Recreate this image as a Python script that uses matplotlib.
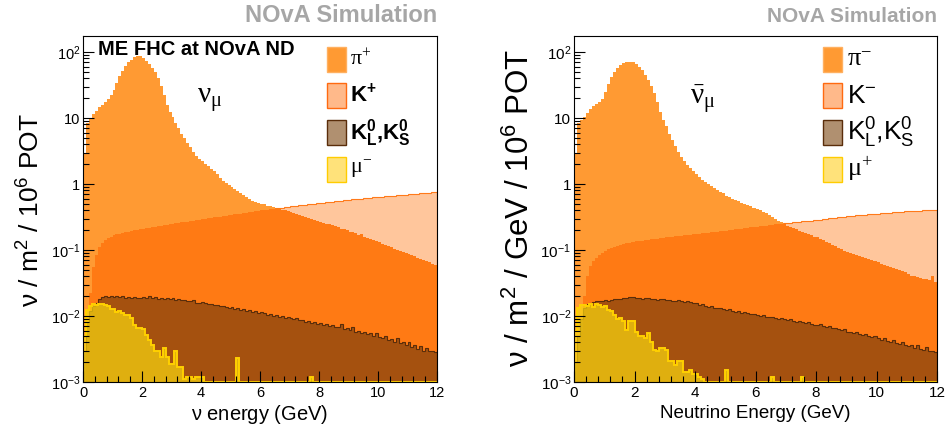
import numpy as np
import matplotlib
matplotlib.use('Agg')
import matplotlib.pyplot as plt
from matplotlib.patches import Rectangle
from matplotlib.ticker import FixedLocator, FixedFormatter, LogLocator, MultipleLocator, NullFormatter

plt.rcParams['font.family'] = ['Liberation Sans', 'DejaVu Sans']
plt.rcParams['mathtext.default'] = 'regular'

SANS = ['Liberation Sans', 'DejaVu Sans']
NARROW = ['Liberation Sans Narrow', 'Liberation Sans', 'DejaVu Sans']
SERIF = ['Liberation Serif', 'DejaVu Serif']

# 0.1 GeV bins from 0 to 12 GeV
edges = np.linspace(0, 12, 121)

# ---- nu_mu flux (FHC), nu / m^2 / 1e6 POT per bin ----
numu_pi = [3.0, 8.5, 10, 11.5, 13, 14.5, 16, 17.5, 19.5, 22,
           27, 34, 43, 52, 62, 70, 77, 83, 87, 86,
           82, 74, 66, 57, 49, 41, 31, 22, 16, 12.5,
           10.5, 8.5, 7.0, 5.8, 4.9, 4.2, 3.6, 3.1, 2.7, 2.4,
           2.2, 2.0, 1.85, 1.7, 1.55, 1.4, 1.25, 1.12, 1.03, 0.97,
           0.90, 0.84, 0.79, 0.74, 0.69, 0.64, 0.60, 0.56, 0.53, 0.51,
           0.50, 0.49, 0.47, 0.46, 0.45, 0.44, 0.43, 0.41, 0.40, 0.39,
           0.375, 0.36, 0.35, 0.34, 0.33, 0.32, 0.31, 0.30, 0.29, 0.28,
           0.27, 0.26, 0.25, 0.245, 0.24, 0.23, 0.22, 0.21, 0.205, 0.20,
           0.19, 0.185, 0.18, 0.17, 0.172, 0.16, 0.15, 0.145, 0.14, 0.135,
           0.13, 0.125, 0.12, 0.115, 0.11, 0.105, 0.10, 0.097, 0.093, 0.09,
           0.087, 0.083, 0.08, 0.077, 0.074, 0.071, 0.068, 0.065, 0.062, 0.06]
numu_k = [0.0005, 0.004, 0.022, 0.055, 0.085, 0.11, 0.128, 0.142, 0.152, 0.16,
          0.166, 0.172, 0.177, 0.182, 0.186, 0.19, 0.194, 0.198, 0.202, 0.206,
          0.21, 0.214, 0.218, 0.222, 0.226, 0.23, 0.234, 0.238, 0.242, 0.246,
          0.25, 0.254, 0.258, 0.262, 0.266, 0.27, 0.274, 0.278, 0.282, 0.287,
          0.292, 0.297, 0.302, 0.307, 0.312, 0.317, 0.322, 0.327, 0.332, 0.337,
          0.342, 0.347, 0.352, 0.357, 0.362, 0.368, 0.374, 0.38, 0.386, 0.392,
          0.398, 0.404, 0.41, 0.416, 0.422, 0.428, 0.434, 0.44, 0.446, 0.452,
          0.458, 0.464, 0.47, 0.476, 0.482, 0.488, 0.494, 0.5, 0.506, 0.512,
          0.518, 0.524, 0.53, 0.536, 0.542, 0.548, 0.554, 0.56, 0.566, 0.572,
          0.578, 0.584, 0.59, 0.596, 0.602, 0.608, 0.614, 0.62, 0.626, 0.632,
          0.638, 0.644, 0.65, 0.656, 0.662, 0.668, 0.674, 0.68, 0.686, 0.692,
          0.698, 0.704, 0.71, 0.716, 0.722, 0.728, 0.734, 0.74, 0.748, 0.756]
numu_k0 = [0.003, 0.008, 0.012, 0.014, 0.016, 0.018, 0.0195, 0.02, 0.0195, 0.02,
           0.0195, 0.02, 0.0192, 0.0198, 0.019, 0.0195, 0.0188, 0.0196, 0.019, 0.0185,
           0.0192, 0.0186, 0.02, 0.0188, 0.0194, 0.0183, 0.019, 0.0182, 0.0186, 0.0178,
           0.0185, 0.0176, 0.018, 0.0174, 0.0177, 0.017, 0.0166, 0.0172, 0.0158, 0.016,
           0.0162, 0.0155, 0.015, 0.0153, 0.0145, 0.0148, 0.014, 0.0143, 0.0136, 0.0132,
           0.0135, 0.0128, 0.013, 0.0124, 0.0126, 0.012, 0.0122, 0.0116, 0.0118, 0.0112,
           0.0115, 0.011, 0.0104, 0.0107, 0.0101, 0.0104, 0.0098, 0.01, 0.0094, 0.0097,
           0.0092, 0.0089, 0.0093, 0.0086, 0.0088, 0.0082, 0.0084, 0.0079, 0.0081, 0.0076,
           0.0078, 0.0073, 0.0075, 0.007, 0.0072, 0.0067, 0.0069, 0.0075, 0.0063, 0.0065,
           0.0061, 0.0068, 0.0058, 0.006, 0.0056, 0.0058, 0.0053, 0.0055, 0.005, 0.0056,
           0.0048, 0.0047, 0.0049, 0.0043, 0.0045, 0.0041, 0.0046, 0.0039, 0.004, 0.0036,
           0.0041, 0.0034, 0.0036, 0.0032, 0.0035, 0.003, 0.0033, 0.0029, 0.003, 0.0028]
numu_mu = [0.005, 0.0125, 0.014, 0.015, 0.0148, 0.015, 0.0152, 0.0148, 0.0142, 0.0128,
           0.0128, 0.0117, 0.0118, 0.0112, 0.0104, 0.0104, 0.0094, 0.0072, 0.0066, 0.0065,
           0.0064, 0.0052, 0.0043, 0.0037, 0.003, 0.0029, 0.0024, 0.0033, 0.0024, 0.0019,
           0.0019, 0.0029, 0.0017, 0.0017, 0.0011, 0.0012, 0.0012, 0.0011, 0.0012, 0.0012,
           0.0012, 0, 0, 0, 0, 0, 0, 0, 0, 0,
           0, 0, 0.0023, 0, 0, 0, 0, 0, 0, 0,
           0, 0, 0, 0, 0, 0, 0, 0, 0, 0,
           0, 0, 0, 0, 0, 0, 0, 0.0012, 0, 0,
           0, 0, 0, 0, 0, 0, 0, 0, 0, 0,
           0, 0, 0, 0, 0, 0, 0, 0, 0, 0,
           0, 0, 0, 0, 0, 0, 0, 0, 0, 0,
           0, 0, 0, 0, 0, 0, 0, 0, 0, 0]

# ---- anti-nu_mu flux, nu / m^2 / GeV / 1e6 POT ----
anumu_pi = [3.0, 8.5, 9.5, 10.5, 12, 13.5, 15, 16.5, 17.5, 19.5,
            25, 33, 42, 50, 57, 64, 68, 71, 71.5, 70,
            66, 60, 53, 45, 38, 31, 24, 17.5, 12.5, 9.5,
            7.5, 5.8, 4.6, 3.8, 3.1, 2.6, 2.25, 1.95, 1.72, 1.55,
            1.4, 1.27, 1.16, 1.07, 1.0, 0.94, 0.86, 0.8, 0.76, 0.72,
            0.66, 0.63, 0.6, 0.58, 0.55, 0.52, 0.5, 0.48, 0.46, 0.44,
            0.42, 0.4, 0.38, 0.36, 0.34, 0.32, 0.3, 0.28, 0.265, 0.25,
            0.235, 0.225, 0.215, 0.205, 0.195, 0.19, 0.18, 0.175, 0.168, 0.16,
            0.155, 0.148, 0.14, 0.133, 0.127, 0.12, 0.114, 0.108, 0.103, 0.098,
            0.094, 0.09, 0.087, 0.084, 0.081, 0.078, 0.076, 0.073, 0.07, 0.067,
            0.065, 0.062, 0.06, 0.058, 0.056, 0.054, 0.052, 0.05, 0.048, 0.046,
            0.043, 0.041, 0.04, 0.039, 0.038, 0.037, 0.036, 0.035, 0.04, 0.033]
anumu_k = [0.0005, 0.002, 0.006, 0.02, 0.041, 0.057, 0.068, 0.076, 0.084, 0.09,
           0.097, 0.102, 0.107, 0.111, 0.115, 0.119, 0.123, 0.126, 0.129, 0.132,
           0.135, 0.137, 0.139, 0.141, 0.143, 0.145, 0.147, 0.149, 0.151, 0.153,
           0.155, 0.157, 0.159, 0.161, 0.163, 0.165, 0.167, 0.169, 0.171, 0.173,
           0.175, 0.177, 0.179, 0.181, 0.183, 0.185, 0.187, 0.189, 0.191, 0.193,
           0.196, 0.199, 0.202, 0.205, 0.208, 0.211, 0.214, 0.217, 0.22, 0.223,
           0.226, 0.229, 0.232, 0.235, 0.238, 0.241, 0.244, 0.247, 0.25, 0.253,
           0.256, 0.259, 0.262, 0.265, 0.268, 0.271, 0.274, 0.277, 0.28, 0.283,
           0.286, 0.29, 0.294, 0.298, 0.302, 0.306, 0.31, 0.314, 0.318, 0.322,
           0.326, 0.33, 0.333, 0.336, 0.339, 0.342, 0.345, 0.348, 0.351, 0.354,
           0.357, 0.36, 0.363, 0.366, 0.369, 0.372, 0.375, 0.378, 0.381, 0.384,
           0.387, 0.39, 0.392, 0.394, 0.396, 0.398, 0.4, 0.402, 0.404, 0.406]
anumu_k0 = [0.002, 0.005, 0.009, 0.013, 0.015, 0.016, 0.0165, 0.017, 0.017, 0.0168,
            0.0172, 0.017, 0.0175, 0.0178, 0.018, 0.0183, 0.019, 0.0185, 0.0192, 0.0195,
            0.019, 0.0188, 0.0183, 0.0186, 0.0189, 0.0181, 0.0184, 0.0176, 0.018, 0.0178,
            0.0172, 0.0177, 0.017, 0.0168, 0.0175, 0.0166, 0.0164, 0.0168, 0.0162, 0.016,
            0.0156, 0.0148, 0.0152, 0.0142, 0.0138, 0.014, 0.0134, 0.0131, 0.0134, 0.0127,
            0.0123, 0.0126, 0.012, 0.0117, 0.0119, 0.0113, 0.0115, 0.011, 0.0107, 0.0109,
            0.0104, 0.0101, 0.0103, 0.0098, 0.0096, 0.0098, 0.0093, 0.0091, 0.0094, 0.0089,
            0.0087, 0.0089, 0.0084, 0.0082, 0.0085, 0.008, 0.0078, 0.0081, 0.0076, 0.0074,
            0.0072, 0.0075, 0.007, 0.0068, 0.007, 0.0065, 0.0066, 0.0063, 0.0061, 0.0063,
            0.0058, 0.0057, 0.0055, 0.0057, 0.0053, 0.0051, 0.0053, 0.0049, 0.0048, 0.005,
            0.0046, 0.0044, 0.0046, 0.0042, 0.0041, 0.0043, 0.0039, 0.0038, 0.004, 0.0036,
            0.0035, 0.0037, 0.0033, 0.0036, 0.0032, 0.0031, 0.0034, 0.003, 0.0029, 0.0028]
anumu_mu = [0.006, 0.013, 0.0148, 0.0145, 0.014, 0.0152, 0.0138, 0.015, 0.0145, 0.0135,
            0.0142, 0.0122, 0.0118, 0.0105, 0.009, 0.0092, 0.0085, 0.0062, 0.0084, 0.0083,
            0.0057, 0.0049, 0.005, 0.0046, 0.0055, 0.004, 0.0031, 0.0029, 0.0033, 0.0033,
            0.0031, 0.0021, 0.0021, 0.0018, 0.0021, 0.0021, 0.0014, 0.0014, 0.0015, 0.0013,
            0.0013, 0.0012, 0.0011, 0, 0, 0, 0, 0, 0, 0,
            0.0015, 0, 0, 0, 0, 0, 0, 0, 0, 0,
            0, 0, 0, 0, 0, 0.0012, 0, 0, 0, 0,
            0, 0, 0, 0, 0, 0.0012, 0, 0, 0, 0,
            0, 0, 0, 0, 0, 0, 0, 0, 0, 0,
            0, 0, 0, 0, 0, 0, 0, 0, 0, 0,
            0, 0, 0, 0, 0, 0, 0, 0, 0, 0,
            0, 0, 0, 0, 0, 0, 0, 0, 0, 0]

ytick_vals = [1e-3, 1e-2, 1e-1, 1, 10, 100]
ytick_labels = ['$10^{-3}$', '$10^{-2}$', '$10^{-1}$', '1', '10', '$10^{2}$']

PI_COL = '#FF9A33'
K_LIGHT = '#FFC69C'
K_DARK = '#FF7A14'
K0_FACE = (105 / 255, 55 / 255, 12 / 255, 0.6)
MU_FACE = (249 / 255, 216 / 255, 16 / 255, 0.7)


def draw_flux(ax, pi, k, k0, mu, tickfam, ticksize):
    pi = np.array(pi)
    k = np.array(k)
    k0 = np.array(k0)
    mu = np.maximum(np.array(mu), 1e-3)
    ax.stairs(k, edges, fill=True, baseline=1e-6, facecolor=K_LIGHT,
              edgecolor='#FF7A1A', linewidth=0.8, zorder=1.0)
    ax.stairs(pi, edges, fill=True, baseline=1e-6, facecolor=PI_COL,
              linewidth=0, zorder=1.1)
    ax.stairs(np.minimum(pi, k), edges, fill=True, baseline=1e-6,
              facecolor=K_DARK, linewidth=0, zorder=1.2)
    ax.stairs(k0, edges, fill=True, baseline=1e-6, facecolor=K0_FACE,
              edgecolor='#5A2D0A', linewidth=0.8, zorder=1.3)
    ax.stairs(mu, edges, fill=True, baseline=1e-3, facecolor=MU_FACE,
              edgecolor='#FFD000', linewidth=1.4, zorder=1.4)

    ax.set_yscale('log')
    ax.set_xlim(0, 12)
    ax.set_ylim(1e-3, 175)
    ax.yaxis.set_major_locator(FixedLocator(ytick_vals))
    ax.yaxis.set_major_formatter(FixedFormatter(ytick_labels))
    ax.yaxis.set_minor_locator(LogLocator(base=10, subs=np.arange(2, 10), numticks=20))
    ax.yaxis.set_minor_formatter(NullFormatter())
    ax.xaxis.set_major_locator(MultipleLocator(2))
    ax.xaxis.set_minor_locator(MultipleLocator(0.4))
    ax.tick_params(which='both', direction='in', top=False, right=False,
                   width=0.8, labelsize=ticksize)
    ax.tick_params(which='major', length=8)
    ax.tick_params(which='minor', length=4)
    ax.tick_params(axis='y', pad=2)
    ax.tick_params(axis='x', pad=3)
    for lab in ax.get_xticklabels() + ax.get_yticklabels():
        lab.set_family(tickfam)
    for sp in ax.spines.values():
        sp.set_linewidth(0.8)


def add_key(ax, labels, x0, fams, weights, size):
    faces = [PI_COL, '#FFB98A', '#B09070', '#FFE27A']
    edgecols = ['#FFB060', '#FF6A10', '#5A2D0A', '#FFCC00']
    tops = [0.968, 0.863, 0.756, 0.649]
    for lab, fc, ec, top, f, w in zip(labels, faces, edgecols, tops, fams, weights):
        ax.add_patch(Rectangle((x0, top - 0.072), 0.053, 0.072, transform=ax.transAxes,
                               facecolor=fc, edgecolor=ec, linewidth=1.0,
                               zorder=5, clip_on=False))
        ax.text(x0 + 0.066, top - 0.036, lab, transform=ax.transAxes, ha='left',
                va='center', fontsize=size, family=f, fontweight=w, zorder=6)


fig = plt.figure(figsize=(9.47, 4.30), dpi=100)
axL = fig.add_axes([83 / 947, 48 / 430, 354 / 947, 346 / 430])
axR = fig.add_axes([574 / 947, 48 / 430, 363 / 947, 346 / 430])

draw_flux(axL, numu_pi, numu_k, numu_k0, numu_mu, SANS, 10.5)
draw_flux(axR, anumu_pi, anumu_k, anumu_k0, anumu_mu, NARROW, 11)

# left panel text
axL.text(0.042, 0.962, 'ME FHC at NOvA ND', transform=axL.transAxes, ha='left',
         va='center', fontsize=14.5, fontweight='bold', zorder=6)
axL.text(0.322, 0.815, r'$\nu_{\mu}$', transform=axL.transAxes, ha='left',
         va='center', fontsize=21, family=SERIF, zorder=6)
add_key(axL, [r'$\pi^{+}$', r'$K^{+}$', r'$K_{L}^{0}{,}K_{S}^{0}$', r'$\mu^{-}$'],
        0.689, [SERIF, SANS, SANS, SERIF], ['normal', 'bold', 'bold', 'normal'], 16)

# right panel text
axR.text(0.32, 0.815, r'$\bar{\nu}_{\mu}$', transform=axR.transAxes, ha='left',
         va='center', fontsize=21, family=SERIF, zorder=6)
add_key(axR, [r'$\pi^{-}$', r'$K^{-}$', r'$K_{L}^{0}{,}K_{S}^{0}$', r'$\mu^{+}$'],
        0.686, [SERIF, NARROW, NARROW, SERIF], ['normal'] * 4, 19)

fig.text(437 / 947, 1 - 16 / 430, 'NOvA Simulation', ha='right', va='center',
         fontsize=17, fontweight='bold', color='#A6A6A6', family=SANS)
fig.text(937 / 947, 1 - 16 / 430, 'NOvA Simulation', ha='right', va='center',
         fontsize=15, fontweight='bold', color='#A6A6A6', family=NARROW)

fig.text(31 / 947, 1 - 210 / 430, r'$\nu$ / m$^{2}$ / 10$^{6}$ POT', rotation=90,
         ha='center', va='center', fontsize=19, family=SANS)
fig.text(520 / 947, 1 - 208 / 430, r'$\nu$ / m$^{2}$ / GeV / 10$^{6}$ POT', rotation=90,
         ha='center', va='center', fontsize=22.5, family=SANS)

fig.text(260 / 947, 1 - 414 / 430, r'$\nu$ energy (GeV)', ha='center', va='center',
         fontsize=14.5, family=SANS)
fig.text(755 / 947, 1 - 414 / 430, 'Neutrino Energy (GeV)', ha='center', va='center',
         fontsize=13.5, family=NARROW)

fig.savefig('out.png', dpi=100)
